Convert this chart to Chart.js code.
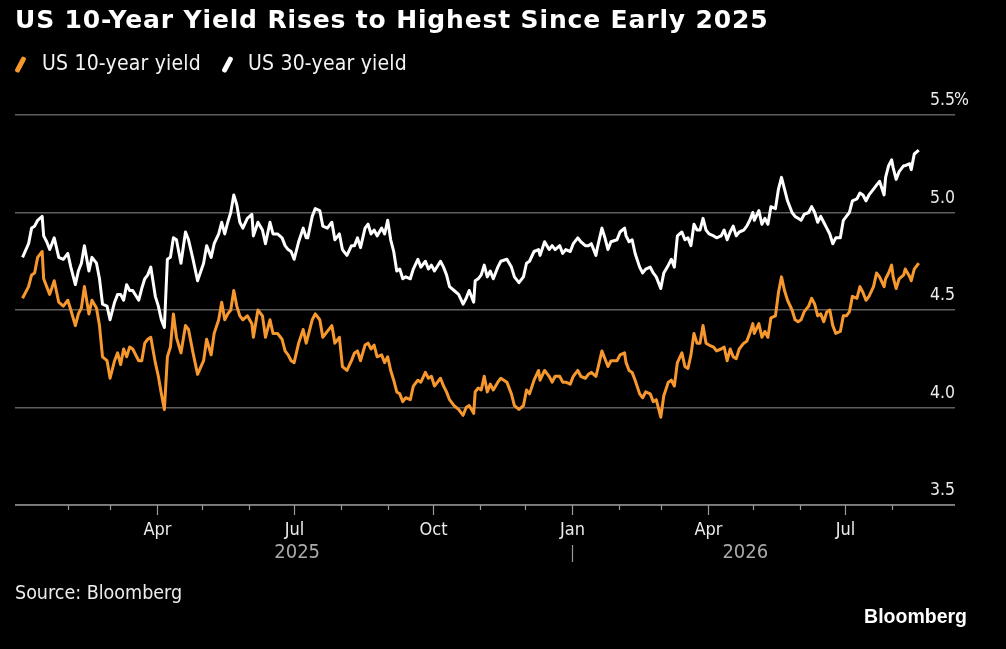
<!DOCTYPE html>
<html>
<head>
<meta charset="utf-8">
<script src="https://cdn.jsdelivr.net/npm/chart.js@4.4.1/dist/chart.umd.min.js"></script>
<style>
  html, body { margin: 0; padding: 0; background: #000; }
  #wrap {
    position: relative; width: 1006px; height: 649px; overflow: hidden;
    font-family: "DejaVu Sans Condensed", "DejaVu Sans", sans-serif; color: #fff;
  }
  #chart { position: absolute; left: 0; top: 0; }
  .title { position: absolute; left: 15px; top: 7px; font-family: "DejaVu Sans", sans-serif; font-size: 25px; line-height: 25px; font-weight: bold; letter-spacing: 0.85px; white-space: nowrap; }
  .legend-text { position: absolute; top: 53px; font-size: 21px; line-height: 21px; letter-spacing: 0.2px; white-space: nowrap; color: #f4f4f4; }
  .swatch { position: absolute; top: 55.5px; width: 4.5px; height: 17px; border-radius: 2px; transform: rotate(28deg); }
  .source { position: absolute; left: 15px; top: 583px; font-size: 19.5px; line-height: 19.5px; color: #ececec; white-space: nowrap; }
  .logo { position: absolute; right: 39px; top: 607px; font-family: "Liberation Sans", Arial, sans-serif; font-weight: bold; font-size: 19.5px; line-height: 19.5px; }
</style>
</head>
<body>
<div id="wrap">
  <canvas id="chart" width="1006" height="649"></canvas>
  <div class="title">US 10-Year Yield Rises to Highest Since Early 2025</div>
  <span class="swatch" style="left:17.5px; background:#f7982f;"></span>
  <div class="legend-text" style="left:42px;">US 10-year yield</div>
  <span class="swatch" style="left:224.5px; background:#ffffff;"></span>
  <div class="legend-text" style="left:248px;">US 30-year yield</div>
  <div class="source">Source: Bloomberg</div>
  <div class="logo">Bloomberg</div>
</div>
<script>
  // days since 2025-01-01
  const days = [
    1, 5, 7, 9, 11, 14, 15, 17, 19, 22, 25, 28, 31, 33, 36, 38, 40, 42, 45, 47, 50, 52, 54, 57, 59, 62, 64, 66, 68, 70, 72, 74,
    78, 80, 82, 84, 86, 89, 91, 93, 95, 97, 99, 101, 103, 106, 109, 111, 114, 117, 121, 123, 126, 128, 131, 133, 135, 137, 139, 141, 143, 145, 147, 150,
    153, 154, 157, 160, 162, 165, 167, 170, 173, 175, 177, 179, 181, 184, 187, 189, 190, 193, 195, 198, 200, 203, 206, 208, 211, 213, 216, 219, 221, 223, 225, 228,
    230, 232, 234, 236, 239, 241, 243, 245, 247, 249, 251, 253, 255, 258, 260, 263, 265, 268, 270, 272, 274, 278, 280, 282, 284, 287, 290, 293, 295, 297, 300,
    301, 303, 305, 307, 309, 311, 313, 316, 318, 322, 325, 327, 330, 333, 335, 337, 340, 343, 344, 347, 350, 352, 354, 357, 359, 361, 364, 366, 369, 371, 374, 376,
    378, 381, 382, 385, 387, 389, 391, 395, 397, 400, 401, 403, 405, 407, 410, 412, 414, 417, 419, 421, 424, 426, 429, 431, 433, 435, 438, 440, 442, 444, 446, 448,
    450, 452, 454, 456, 459, 461, 464, 466, 468, 470, 472, 474, 476, 479, 481, 483, 485, 486, 489, 491, 493, 495, 497, 500, 502, 504, 506, 508, 511, 513, 515, 517,
    519, 522, 524, 526, 528, 530, 532, 534, 536, 538, 540, 543, 545, 547, 549, 551, 554, 556, 558, 560, 562, 565, 567, 569, 572, 573, 575, 577, 578, 580, 582, 585,
    586, 589, 590, 592, 595
  ];

  const yield10 = [
    4.56, 4.62, 4.68, 4.69, 4.77, 4.80, 4.66, 4.62, 4.58, 4.65, 4.54, 4.52, 4.55, 4.50, 4.42, 4.48, 4.51, 4.62, 4.48, 4.55, 4.51, 4.42, 4.26, 4.24, 4.15, 4.24, 4.28, 4.22, 4.30, 4.26, 4.31, 4.30,
    4.24, 4.24, 4.33, 4.35, 4.36, 4.23, 4.16, 4.07, 3.99, 4.26, 4.31, 4.48, 4.36, 4.28, 4.42, 4.40, 4.28, 4.17, 4.24, 4.35, 4.27, 4.38, 4.45, 4.54, 4.45, 4.48, 4.50, 4.60, 4.52, 4.47, 4.45, 4.47,
    4.43, 4.36, 4.50, 4.47, 4.36, 4.45, 4.38, 4.38, 4.35, 4.29, 4.27, 4.24, 4.23, 4.33, 4.40, 4.33, 4.36, 4.45, 4.48, 4.45, 4.36, 4.39, 4.42, 4.33, 4.36, 4.21, 4.19, 4.24, 4.28, 4.29, 4.24, 4.32,
    4.33, 4.30, 4.32, 4.26, 4.27, 4.23, 4.26, 4.19, 4.14, 4.08, 4.07, 4.03, 4.05, 4.04, 4.11, 4.14, 4.13, 4.18, 4.15, 4.16, 4.11, 4.15, 4.11, 4.08, 4.04, 4.01, 3.99, 3.96, 4.00, 4.01, 3.97,
    4.08, 4.10, 4.09, 4.16, 4.08, 4.12, 4.09, 4.13, 4.15, 4.13, 4.07, 4.01, 3.99, 4.01, 4.09, 4.07, 4.14, 4.19, 4.14, 4.19, 4.16, 4.13, 4.16, 4.16, 4.13, 4.13, 4.12, 4.16, 4.19, 4.16, 4.15, 4.17,
    4.18, 4.16, 4.19, 4.29, 4.25, 4.21, 4.24, 4.24, 4.27, 4.28, 4.23, 4.19, 4.18, 4.14, 4.07, 4.05, 4.08, 4.07, 4.03, 4.04, 3.95, 4.06, 4.13, 4.14, 4.11, 4.23, 4.28, 4.21, 4.20, 4.27, 4.38, 4.33,
    4.33, 4.42, 4.33, 4.32, 4.31, 4.29, 4.30, 4.31, 4.24, 4.30, 4.26, 4.25, 4.30, 4.33, 4.34, 4.38, 4.43, 4.38, 4.43, 4.36, 4.39, 4.36, 4.46, 4.47, 4.59, 4.67, 4.60, 4.55, 4.50, 4.45, 4.44, 4.45,
    4.49, 4.52, 4.56, 4.53, 4.47, 4.48, 4.44, 4.49, 4.50, 4.42, 4.38, 4.39, 4.47, 4.47, 4.49, 4.57, 4.56, 4.62, 4.59, 4.55, 4.57, 4.62, 4.69, 4.67, 4.62, 4.66, 4.69, 4.73, 4.67, 4.61, 4.66, 4.68,
    4.71, 4.67, 4.65, 4.71, 4.74
  ];

  const yield30 = [
    4.77, 4.84, 4.92, 4.93, 4.96, 4.98, 4.88, 4.85, 4.81, 4.87, 4.77, 4.76, 4.79, 4.72, 4.63, 4.70, 4.74, 4.83, 4.70, 4.77, 4.74, 4.66, 4.53, 4.52, 4.45, 4.54, 4.58, 4.58, 4.55, 4.63, 4.60, 4.60,
    4.55, 4.61, 4.66, 4.68, 4.72, 4.57, 4.52, 4.45, 4.41, 4.76, 4.77, 4.87, 4.86, 4.74, 4.90, 4.86, 4.76, 4.65, 4.74, 4.83, 4.77, 4.84, 4.89, 4.95, 4.89, 4.95, 5.00, 5.09, 5.04, 4.95, 4.92, 4.97,
    4.99, 4.88, 4.95, 4.91, 4.84, 4.95, 4.89, 4.89, 4.87, 4.83, 4.81, 4.80, 4.76, 4.85, 4.92, 4.87, 4.87, 4.98, 5.02, 5.01, 4.93, 4.92, 4.95, 4.86, 4.89, 4.81, 4.78, 4.83, 4.83, 4.87, 4.82, 4.92,
    4.94, 4.89, 4.91, 4.88, 4.92, 4.89, 4.96, 4.86, 4.80, 4.70, 4.71, 4.66, 4.67, 4.66, 4.71, 4.76, 4.72, 4.75, 4.71, 4.73, 4.70, 4.75, 4.72, 4.68, 4.62, 4.60, 4.58, 4.53, 4.56, 4.60, 4.54,
    4.65, 4.66, 4.68, 4.73, 4.67, 4.70, 4.66, 4.72, 4.75, 4.76, 4.72, 4.67, 4.64, 4.67, 4.74, 4.75, 4.80, 4.81, 4.78, 4.85, 4.81, 4.83, 4.81, 4.83, 4.79, 4.81, 4.80, 4.84, 4.87, 4.85, 4.83, 4.83,
    4.84, 4.78, 4.82, 4.92, 4.87, 4.81, 4.85, 4.86, 4.90, 4.92, 4.88, 4.85, 4.86, 4.79, 4.72, 4.69, 4.71, 4.72, 4.69, 4.67, 4.61, 4.69, 4.73, 4.76, 4.72, 4.88, 4.90, 4.86, 4.87, 4.83, 4.94, 4.91,
    4.91, 4.97, 4.91, 4.89, 4.88, 4.87, 4.88, 4.91, 4.86, 4.90, 4.93, 4.88, 4.90, 4.91, 4.93, 4.96, 5.00, 4.96, 5.01, 4.94, 4.97, 4.94, 5.03, 5.02, 5.12, 5.18, 5.12, 5.06, 5.00, 4.98, 4.97, 4.96,
    4.99, 5.00, 5.03, 5.00, 4.95, 4.98, 4.95, 4.92, 4.89, 4.84, 4.87, 4.87, 4.96, 4.98, 5.00, 5.06, 5.07, 5.10, 5.09, 5.06, 5.09, 5.12, 5.14, 5.16, 5.09, 5.18, 5.24, 5.27, 5.23, 5.17, 5.21, 5.24,
    5.24, 5.25, 5.22, 5.30, 5.32
  ];

  // month starts (days since 2025-01-01), Feb 2025 .. Aug 2026
  const monthDays = [31, 59, 90, 120, 151, 181, 212, 243, 273, 304, 334, 365, 396, 424, 455, 485, 516, 546, 577];
  const monthLabels = ["", "", "Apr", "", "", "Jul", "", "", "Oct", "", "", "Jan", "", "", "Apr", "", "", "Jul", ""];
  const yearLabels = ["2025", "2026"];
  const yearStarts = [0, 365];
  const yTicks = [3.5, 4.0, 4.5, 5.0, 5.5];

  const LABEL_FONT = '"DejaVu Sans Condensed", "DejaVu Sans", sans-serif';

  const decorPlugin = {
    id: "decor",
    afterDraw(chart) {
      const { ctx, chartArea: area } = chart;
      const x = chart.scales.x;
      const y = chart.scales.y;
      ctx.save();

      // x axis line
      ctx.strokeStyle = "#8a8a8a";
      ctx.lineWidth = 1.5;
      ctx.beginPath();
      ctx.moveTo(area.left, area.bottom);
      ctx.lineTo(area.right, area.bottom);
      ctx.stroke();

      // month ticks and labels
      ctx.font = "18px " + LABEL_FONT;
      ctx.fillStyle = "#ececec";
      ctx.textAlign = "center";
      ctx.textBaseline = "alphabetic";
      monthDays.forEach((d, i) => {
        const px = Math.round(x.getPixelForValue(d)) + 0.5;
        const major = monthLabels[i] !== "";
        ctx.strokeStyle = "#9a9a9a";
        ctx.lineWidth = 1.2;
        ctx.beginPath();
        ctx.moveTo(px, area.bottom);
        ctx.lineTo(px, area.bottom + (major ? 10 : 5));
        ctx.stroke();
        if (major) ctx.fillText(monthLabels[i], px, area.bottom + 30);
      });

      // year labels, centred on the data inside each year
      const first = days[0];
      const last = days[days.length - 1];
      ctx.font = "20px " + LABEL_FONT;
      ctx.fillStyle = "#ababab";
      yearLabels.forEach((lbl, i) => {
        const s = Math.max(first, yearStarts[i]);
        const e = Math.min(last, i + 1 < yearStarts.length ? yearStarts[i + 1] : last);
        const cx = (x.getPixelForValue(s) + x.getPixelForValue(e)) / 2;
        ctx.fillText(lbl, cx, area.bottom + 53);
      });
      // year separator
      const sepX = Math.round(x.getPixelForValue(yearStarts[1])) + 0.5;
      ctx.strokeStyle = "#9a9a9a";
      ctx.lineWidth = 1.2;
      ctx.beginPath();
      ctx.moveTo(sepX, area.bottom + 40);
      ctx.lineTo(sepX, area.bottom + 57);
      ctx.stroke();

      // y labels sit above their grid lines, right-aligned
      ctx.font = "17.5px " + LABEL_FONT;
      ctx.fillStyle = "#ececec";
      yTicks.forEach((v, i) => {
        const py = y.getPixelForValue(v) - 10;
        ctx.textAlign = "right";
        ctx.fillText(v.toFixed(1), area.right, py);
        if (i === yTicks.length - 1) {
          ctx.textAlign = "left";
          ctx.fillText("%", area.right - 1, py);
        }
      });
      ctx.restore();
    }
  };

  new Chart(document.getElementById("chart"), {
    type: "line",
    data: {
      datasets: [
        {
          label: "US 10-year yield",
          data: days.map((d, i) => ({ x: d, y: yield10[i] })),
          borderColor: "#f7982f",
          borderWidth: 3,
          pointRadius: 0,
          tension: 0,
          borderJoinStyle: "round",
          order: 0
        },
        {
          label: "US 30-year yield",
          data: days.map((d, i) => ({ x: d, y: yield30[i] })),
          borderColor: "#ffffff",
          borderWidth: 3,
          pointRadius: 0,
          tension: 0,
          borderJoinStyle: "round",
          order: 1
        }
      ]
    },
    options: {
      responsive: false,
      animation: false,
      devicePixelRatio: 1,
      layout: { padding: { left: 15, right: 51, top: 115, bottom: 144 } },
      plugins: {
        legend: { display: false },
        tooltip: { enabled: false }
      },
      scales: {
        x: { type: "linear", min: -4, max: 619, display: false },
        y: {
          position: "right",
          min: 3.5,
          max: 5.5,
          afterFit: (s) => { s.width = 0; },
          ticks: { stepSize: 0.5, display: false },
          border: { display: false },
          grid: {
            drawTicks: false,
            color: "#5e5e5e",
            lineWidth: 1.5
          }
        }
      }
    },
    plugins: [decorPlugin]
  });
</script>
</body>
</html>
